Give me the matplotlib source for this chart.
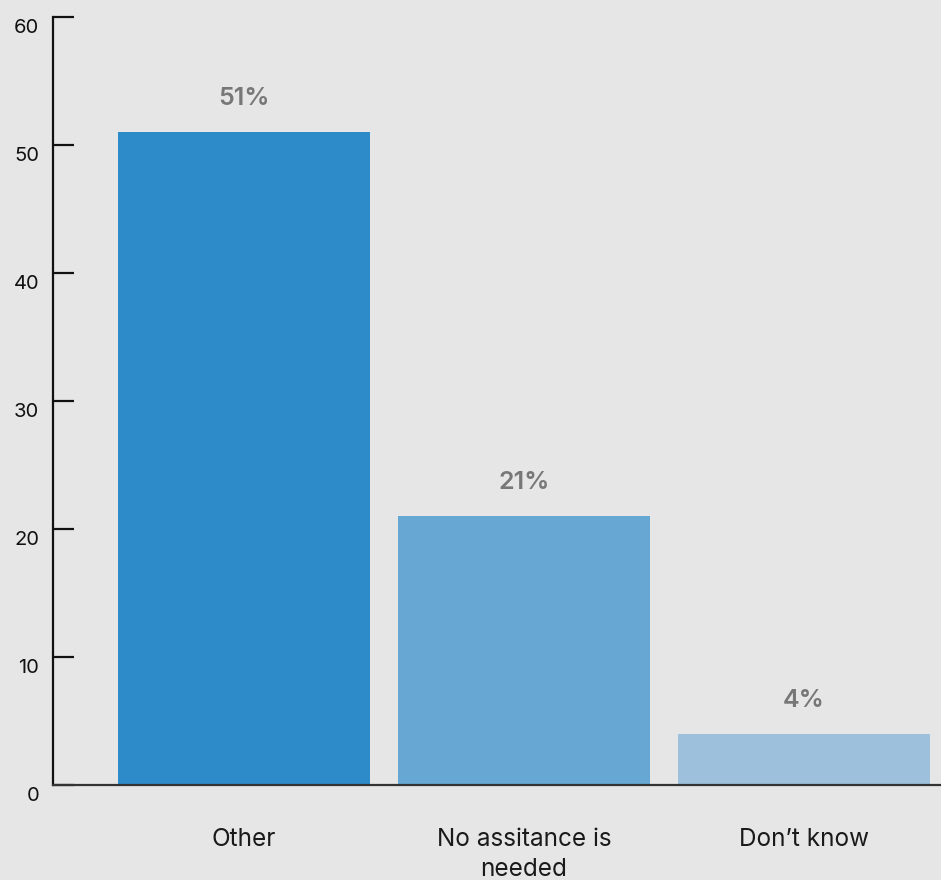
import matplotlib.pyplot as plt
from matplotlib.transforms import ScaledTranslation

categories = ["Other", "No assitance is\nneeded", "Don\u2019t know"]
values = [51, 21, 4]
value_labels = ["51%", "21%", "4%"]
bar_colors = ["#2e8bc9", "#66a8d3", "#9dc1dc"]
y_ticks = [0, 10, 20, 30, 40, 50, 60]

BG = "#e6e6e6"

plt.rcParams["font.family"] = ["Inter", "DejaVu Sans"]

fig = plt.figure(figsize=(9.41, 8.8), dpi=100, facecolor=BG)
ax = fig.add_axes([53 / 941, 1 - 785 / 880, 1 - 53 / 941, (785 - 17) / 880])
ax.set_facecolor(BG)

x = range(len(categories))
bars = ax.bar(x, values, width=0.9, color=bar_colors, zorder=2)

for bar, label in zip(bars, value_labels):
    ax.annotate(label, (bar.get_x() + bar.get_width() / 2, bar.get_height()),
                xytext=(0, 24), textcoords="offset points",
                ha="center", va="center", fontsize=18, fontweight="semibold",
                color="#777777")

ax.set_xlim(-0.682, 2.489)
ax.set_ylim(0, 60)
ax.set_yticks(y_ticks)
ax.set_xticks(list(x))
ax.set_xticklabels(categories, fontsize=17.5, color="#1a1a1a", linespacing=1.4)

for side in ("top", "right"):
    ax.spines[side].set_visible(False)
ax.spines["left"].set_linewidth(1.6)
ax.spines["left"].set_color("#111111")
ax.spines["bottom"].set_linewidth(1.6)
ax.spines["bottom"].set_color("#333333")
ax.spines["bottom"].set_zorder(3)

ax.tick_params(axis="y", direction="in", length=15, width=1.6,
               pad=10, labelsize=14.5, colors="#111111")
ax.tick_params(axis="x", length=0, pad=31)

offset = ScaledTranslation(0, -9 / 100, fig.dpi_scale_trans)
for lbl in ax.get_yticklabels():
    lbl.set_transform(lbl.get_transform() + offset)

fig.savefig("out.png", dpi=100, facecolor=BG)
